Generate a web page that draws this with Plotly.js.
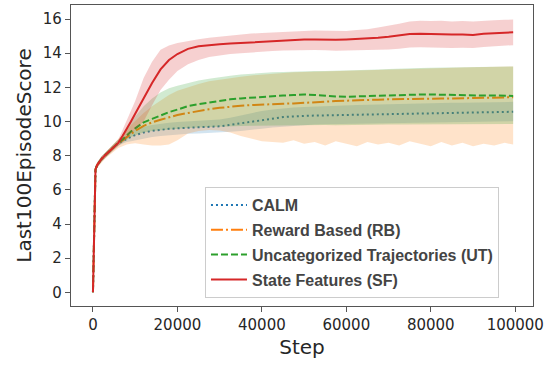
<!DOCTYPE html>
<html>
<head>
<meta charset="utf-8">
<script src="https://cdn.plot.ly/plotly-3.0.1.min.js"></script>
<style>html,body{margin:0;padding:0;background:#fff;}#chart{width:549px;height:365px;}</style>
</head>
<body>
<div id="chart"></div>
<script>
const steps = [0, 300, 600, 1000, 2000, 3000, 4000, 5000, 6000, 7000, 8000, 9000, 10000, 12000, 14000, 16000, 18000, 20000,
  22500, 25000, 27500, 30000, 32500, 35000, 37500, 40000, 42500, 45000, 47500, 50000, 52500, 55000, 57500, 60000,
  62500, 65000, 67500, 70000, 72500, 75000, 77500, 80000, 82500, 85000, 87500, 90000, 92500, 95000, 97500, 99500];

const seriesNames = ["CALM", "Reward Based (RB)", "Uncategorized Trajectories (UT)", "State Features (SF)"];

const calmMean = [0, 4.5, 7.2, 7.45, 7.8, 8.05, 8.3, 8.5, 8.75, 8.85, 9.0, 9.1, 9.2, 9.35, 9.45, 9.52, 9.57, 9.6,
  9.62, 9.65, 9.68, 9.72, 9.8, 9.9, 10.0, 10.1, 10.18, 10.26, 10.3, 10.34, 10.35, 10.36, 10.37, 10.38, 10.4, 10.41,
  10.42, 10.43, 10.44, 10.45, 10.46, 10.47, 10.48, 10.5, 10.51, 10.52, 10.53, 10.55, 10.56, 10.57];
const calmLo = [0, 4.4, 7.05, 7.3, 7.65, 7.9, 8.15, 8.35, 8.6, 8.7, 8.8, 8.85, 8.9, 9.0, 9.1, 9.15, 9.2, 9.25,
  9.28, 9.3, 9.32, 9.35, 9.4, 9.45, 9.5, 9.58, 9.65, 9.7, 9.75, 9.8, 9.82, 9.84, 9.85, 9.87, 9.88, 9.9,
  9.92, 9.93, 9.94, 9.95, 9.96, 9.97, 9.98, 9.98, 9.99, 10.0, 10.0, 10.0, 10.01, 10.02];
const calmHi = [0, 4.6, 7.35, 7.6, 7.95, 8.2, 8.45, 8.65, 8.9, 9.0, 9.2, 9.35, 9.5, 9.7, 9.8, 9.88, 9.93, 9.97,
  10.0, 10.03, 10.07, 10.12, 10.22, 10.35, 10.5, 10.62, 10.7, 10.78, 10.82, 10.85, 10.88, 10.9, 10.92, 10.94, 10.96, 10.98,
  11.0, 11.02, 11.03, 11.05, 11.06, 11.07, 11.08, 11.1, 11.1, 11.11, 11.12, 11.13, 11.14, 11.15];

const rbMean = [0, 4.5, 7.2, 7.45, 7.8, 8.05, 8.3, 8.5, 8.75, 8.9, 9.1, 9.3, 9.45, 9.75, 9.95, 10.1, 10.25, 10.38,
  10.5, 10.62, 10.72, 10.8, 10.87, 10.92, 10.96, 11.0, 11.02, 11.04, 11.06, 11.08, 11.12, 11.16, 11.2, 11.23, 11.25, 11.27,
  11.28, 11.3, 11.3, 11.31, 11.32, 11.33, 11.34, 11.35, 11.36, 11.37, 11.38, 11.4, 11.41, 11.42];
const rbLo = [0, 4.4, 7.05, 7.3, 7.6, 7.85, 8.05, 8.25, 8.45, 8.55, 8.65, 8.7, 8.72, 8.65, 8.6, 8.6, 8.65, 8.9,
  9.3, 9.45, 9.5, 9.48, 9.35, 9.15, 9.0, 8.85, 8.8, 8.75, 8.9, 8.7, 8.8, 8.6, 8.85, 8.7, 8.55, 8.8,
  8.65, 8.75, 8.6, 8.85, 8.7, 8.55, 8.8, 8.6, 8.75, 8.55, 8.7, 8.6, 8.75, 8.65];
const rbHi = [0, 4.6, 7.35, 7.6, 7.95, 8.2, 8.45, 8.7, 8.95, 9.2, 9.5, 9.8, 10.05, 10.5, 10.9, 11.25, 11.55, 11.8,
  12.0, 12.2, 12.35, 12.45, 12.55, 12.62, 12.7, 12.75, 12.8, 12.85, 12.88, 12.9, 12.92, 12.93, 12.95, 12.97, 12.98, 13.0,
  13.02, 13.05, 13.07, 13.1, 13.12, 13.13, 13.14, 13.15, 13.16, 13.17, 13.18, 13.19, 13.2, 13.22];

const utMean = [0, 4.5, 7.2, 7.45, 7.8, 8.05, 8.3, 8.5, 8.75, 8.95, 9.2, 9.42, 9.6, 9.95, 10.15, 10.35, 10.55, 10.7,
  10.9, 11.02, 11.12, 11.22, 11.3, 11.35, 11.4, 11.45, 11.5, 11.52, 11.55, 11.58, 11.55, 11.5, 11.47, 11.45, 11.47, 11.5,
  11.52, 11.55, 11.55, 11.57, 11.58, 11.58, 11.56, 11.55, 11.55, 11.53, 11.52, 11.52, 11.5, 11.5];
const utLo = [0, 4.4, 7.05, 7.3, 7.65, 7.9, 8.15, 8.35, 8.6, 8.75, 8.95, 9.1, 9.2, 9.35, 9.45, 9.5, 9.55, 9.6,
  9.62, 9.65, 9.68, 9.7, 9.72, 9.74, 9.75, 9.76, 9.78, 9.78, 9.8, 9.8, 9.8, 9.8, 9.78, 9.78, 9.8, 9.8,
  9.82, 9.82, 9.83, 9.83, 9.84, 9.84, 9.83, 9.84, 9.84, 9.83, 9.84, 9.84, 9.85, 9.85];
const utHi = [0, 4.6, 7.35, 7.6, 7.95, 8.2, 8.45, 8.7, 8.95, 9.2, 9.6, 9.95, 10.3, 10.9, 11.35, 11.7, 11.95, 12.1,
  12.25, 12.4, 12.5, 12.6, 12.68, 12.75, 12.8, 12.85, 12.88, 12.9, 12.93, 12.95, 12.95, 12.96, 12.97, 12.98, 13.0, 13.02,
  13.05, 13.07, 13.1, 13.12, 13.13, 13.14, 13.15, 13.16, 13.17, 13.18, 13.19, 13.2, 13.2, 13.22];

const sfMean = [0, 4.5, 7.2, 7.45, 7.8, 8.05, 8.3, 8.5, 8.75, 9.15, 9.55, 10.0, 10.45, 11.35, 12.25, 13.05, 13.6, 13.95,
  14.25, 14.4, 14.47, 14.52, 14.56, 14.6, 14.63, 14.66, 14.7, 14.74, 14.77, 14.8, 14.8, 14.78, 14.78, 14.8, 14.82, 14.86,
  14.9, 14.96, 15.04, 15.12, 15.13, 15.11, 15.12, 15.09, 15.1, 15.07, 15.13, 15.16, 15.2, 15.22];
const sfLo = [0, 4.4, 7.05, 7.3, 7.65, 7.9, 8.15, 8.35, 8.55, 8.8, 9.0, 9.25, 9.5, 10.0, 10.95, 11.85, 12.45, 12.95,
  13.35, 13.6, 13.78, 13.88, 13.95, 14.0, 14.05, 14.1, 14.12, 14.15, 14.16, 14.2, 14.18, 14.17, 14.14, 14.16, 14.17, 14.18,
  14.2, 14.22, 14.26, 14.33, 14.34, 14.32, 14.33, 14.3, 14.32, 14.3, 14.36, 14.4, 14.45, 14.47];
const sfHi = [0, 4.6, 7.35, 7.6, 7.95, 8.2, 8.45, 8.65, 8.95, 9.5, 10.05, 10.6, 11.2, 12.55, 13.5, 14.2, 14.45, 14.6,
  14.72, 14.82, 14.9, 14.97, 15.05, 15.1, 15.15, 15.18, 15.22, 15.26, 15.28, 15.3, 15.32, 15.3, 15.28, 15.3, 15.35, 15.4,
  15.5, 15.6, 15.72, 15.86, 15.9, 15.88, 15.9, 15.86, 15.88, 15.85, 15.9, 15.92, 15.95, 15.97];

const xTickVals = [0, 20000, 40000, 60000, 80000, 100000];
const yTickVals = [0, 2, 4, 6, 8, 10, 12, 14, 16];

const lineColors = ["#1f77b4", "#ff7f0e", "#2ca02c", "#d62728"];
const bandColors = ["rgba(31,119,180,0.2)", "rgba(255,127,14,0.22)", "rgba(44,160,44,0.22)", "rgba(214,39,40,0.22)"];
const dashes = ["2px,3px", "12px,3px,2px,3px", "7px,3px", "solid"];

const means = [calmMean, rbMean, utMean, sfMean];
const los = [calmLo, rbLo, utLo, sfLo];
const his = [calmHi, rbHi, utHi, sfHi];

const traces = [];
for (let i = 0; i < 4; i++) {
  traces.push({
    x: steps, y: means[i], type: "scatter", mode: "lines", name: seriesNames[i],
    legendgroup: "g" + i, showlegend: true,
    line: {color: lineColors[i], width: 2, dash: dashes[i]}
  });
  traces.push({
    x: steps, y: his[i], type: "scatter", mode: "lines", legendgroup: "g" + i, showlegend: false,
    line: {width: 0, color: lineColors[i]}, hoverinfo: "skip"
  });
  traces.push({
    x: steps, y: los[i], type: "scatter", mode: "lines", legendgroup: "g" + i, showlegend: false,
    fill: "tonexty", fillcolor: bandColors[i], line: {width: 0, color: lineColors[i]}, hoverinfo: "skip"
  });
}

const axisCommon = {
  showgrid: false, zeroline: false, showline: true, mirror: true,
  linecolor: "#555", linewidth: 1.2, ticks: "outside", ticklen: 5, tickwidth: 1, tickcolor: "#555",
  tickfont: {family: "DejaVu Sans", size: 15, color: "#262626"}
};

const layout = {
  width: 549, height: 365,
  margin: {l: 71, r: 16, t: 5, b: 59},
  paper_bgcolor: "#fff", plot_bgcolor: "#fff",
  xaxis: Object.assign({}, axisCommon, {
    range: [-5200, 104200], tickvals: xTickVals, ticktext: xTickVals.map(String),
    title: {text: "Step", font: {family: "DejaVu Sans", size: 20, color: "#262626"}, standoff: 6}
  }),
  yaxis: Object.assign({}, axisCommon, {
    range: [-0.8, 16.82], tickvals: yTickVals, ticktext: yTickVals.map(String),
    title: {text: "Last100EpisodeScore", font: {family: "DejaVu Sans", size: 20, color: "#262626"}, standoff: 5}
  }),
  legend: {
    x: 0.29, y: 0.395, xanchor: "left", yanchor: "top",
    bgcolor: "rgba(255,255,255,0.85)", bordercolor: "#cccccc", borderwidth: 1,
    font: {family: "Liberation Sans", size: 16, color: "#444", weight: "bold"},
    tracegroupgap: 1, itemwidth: 36
  },
  showlegend: true
};

Plotly.newPlot("chart", traces, layout, {staticPlot: true, displayModeBar: false});
</script>
</body>
</html>
